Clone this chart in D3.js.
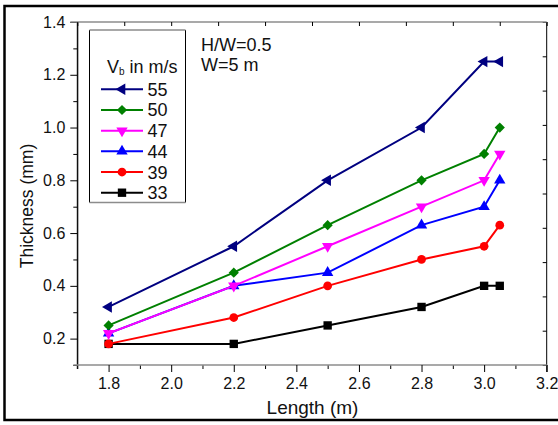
<!DOCTYPE html>
<html>
<head>
<meta charset="utf-8">
<script src="https://cdn.jsdelivr.net/npm/d3@7"></script>
<style>
  html, body { margin: 0; padding: 0; background: #fff; overflow: hidden; }
  svg { display: block; }
  svg text { font-family: Arial, "Liberation Sans", sans-serif; fill: #111; }
</style>
</head>
<body>
<svg id="chart" width="558" height="425"></svg>
<script>
// chart values
const lengths = [1.8, 2.2, 2.5, 2.8, 3.0, 3.05];
const speeds = ['55', '50', '47', '44', '39', '33'];
const v55 = [0.32, 0.55, 0.80, 1.00, 1.25, 1.25];
const v50 = [0.25, 0.45, 0.63, 0.80, 0.90, 1.00];
const v47 = [0.22, 0.40, 0.55, 0.70, 0.80, 0.90];
const v44 = [0.22, 0.40, 0.45, 0.63, 0.70, 0.80];
const v39 = [0.18, 0.28, 0.40, 0.50, 0.55, 0.63];
const v33 = [0.18, 0.18, 0.25, 0.32, 0.40, 0.40];
const xMajor = [1.8, 2.0, 2.2, 2.4, 2.6, 2.8, 3.0, 3.2];
const xMinor = [1.7, 1.9, 2.1, 2.3, 2.5, 2.7, 2.9, 3.1];
const yMajor = [0.2, 0.4, 0.6, 0.8, 1.0, 1.2, 1.4];
const yMinor = [0.1, 0.3, 0.5, 0.7, 0.9, 1.1, 1.3];
const notes = ['H/W=0.5', 'W=5 m'];

const series = [
  { name: '33', values: v33, color: '#000000', marker: 'square' },
  { name: '39', values: v39, color: '#ff0000', marker: 'circle' },
  { name: '44', values: v44, color: '#0000ff', marker: 'up' },
  { name: '47', values: v47, color: '#ff00ff', marker: 'down' },
  { name: '50', values: v50, color: '#008000', marker: 'diamond' },
  { name: '55', values: v55, color: '#000080', marker: 'left' }
];

const svg = d3.select('#chart');
const pLeft = 77.3, pRight = 546.7, pTop = 22, pBottom = 365;

const x = d3.scaleLinear().domain([1.7, 3.2]).range([pLeft, pRight]);
const y = d3.scaleLinear().domain([0.1, 1.4]).range([pBottom, pTop]);
// the top and right frame ticks just split the sides into ten
const xTop = d3.scaleLinear().domain([0, 10]).range([pLeft, pRight]);
const yRight = d3.scaleLinear().domain([0, 10]).range([pBottom, pTop]);

// outer frame of the figure, open on the right (cropped off there)
svg.append('path')
  .attr('d', 'M560,6H4.5V420H560')
  .attr('fill', 'none').attr('stroke', '#000').attr('stroke-width', 2.5);

function styleAxis (g, domainColor, domainWidth) {
  g.select('.domain').attr('stroke', domainColor).attr('stroke-width', domainWidth);
  g.selectAll('.tick line').attr('stroke', '#000').attr('stroke-width', 1);
  g.selectAll('.tick text').attr('fill', '#111')
    .style('font-size', '16px').style('font-family', 'Arial, "Liberation Sans", sans-serif');
}

// vertical axes first, the grey horizontal lines go on top of them
svg.append('g').attr('transform', `translate(${pLeft},0)`)
  .call(d3.axisLeft(y).tickValues(yMinor).tickSize(4).tickSizeOuter(0).tickFormat(''))
  .call(g => styleAxis(g, '#000', 1));
svg.append('g').attr('transform', `translate(${pLeft},0)`)
  .call(d3.axisLeft(y).tickValues(yMajor).tickSize(7).tickSizeOuter(0).tickPadding(5).tickFormat(d3.format('.1f')))
  .call(g => styleAxis(g, '#000', 1))
  .call(g => g.select('.domain').attr('d', `M0,${pTop}V${pBottom + 4}`));
svg.append('g').attr('transform', `translate(${pRight},0)`)
  .call(d3.axisLeft(yRight).ticks(10).tickSize(4).tickSizeOuter(0).tickFormat(''))
  .call(g => styleAxis(g, '#000', 1))
  .call(g => g.select('.domain').attr('d', `M0,${pTop}V${pBottom + 7}`));

svg.append('g').attr('transform', `translate(0,${pBottom})`)
  .call(d3.axisBottom(x).tickValues(xMinor).tickSize(4).tickSizeOuter(0).tickFormat(''))
  .call(g => g.select('.domain').remove())
  .call(g => styleAxis(g, '#000', 1));
svg.append('g').attr('transform', `translate(0,${pBottom})`)
  .call(d3.axisBottom(x).tickValues(xMajor).tickSize(7).tickSizeOuter(0).tickPadding(6).tickFormat(d3.format('.1f')))
  .call(g => styleAxis(g, '#8c8c8c', 1.5))
  .call(g => g.select('.domain').attr('d', `M${pLeft - 4},0H${pRight}`));
svg.append('g').attr('transform', `translate(0,${pTop})`)
  .call(d3.axisBottom(xTop).ticks(10).tickSize(4).tickSizeOuter(0).tickFormat(''))
  .call(g => styleAxis(g, '#8c8c8c', 1.5))
  .call(g => g.select('.domain').attr('d', `M${pLeft - 7},0H${pRight}`));

// axis titles
svg.append('text')
  .attr('x', (pLeft + pRight) / 2 + 0.5).attr('y', 414)
  .attr('text-anchor', 'middle').style('font-size', '19px')
  .text('Length (m)');
svg.append('text')
  .attr('transform', 'translate(33,206) rotate(-90)')
  .attr('text-anchor', 'middle').style('font-size', '17.5px')
  .text('Thickness (mm)');

const symbolFor = {
  square: { type: d3.symbolSquare, size: 70, rot: 0 },
  circle: { type: d3.symbolCircle, size: 60, rot: 0 },
  up: { type: d3.symbolTriangle, size: 56, rot: 0 },
  down: { type: d3.symbolTriangle, size: 56, rot: 180 },
  left: { type: d3.symbolTriangle, size: 56, rot: -90 },
  diamond: { type: d3.symbolSquare, size: 52, rot: 45 }
};

const line = d3.line().x(d => x(d[0])).y(d => y(d[1]));

const plot = svg.append('g');
for (const s of series) {
  const pts = lengths.map((l, i) => [l, s.values[i]]);
  const m = symbolFor[s.marker];
  plot.append('path')
    .attr('d', line(pts))
    .attr('fill', 'none').attr('stroke', s.color).attr('stroke-width', 2);
  plot.selectAll(null).data(pts).enter().append('path')
    .attr('transform', d => `translate(${x(d[0])},${y(d[1])}) rotate(${m.rot})`)
    .attr('d', d3.symbol().type(m.type).size(m.size))
    .attr('fill', s.color);
}

// legend box: grey horizontal edges, black vertical edges like the axes
const lg = { x0: 89.5, x1: 185.5, y0: 30, y1: 202.5 };
svg.append('path')
  .attr('d', `M${lg.x0},${lg.y0}V${lg.y1}M${lg.x1},${lg.y0}V${lg.y1}`)
  .attr('stroke', '#000').attr('stroke-width', 1).attr('fill', 'none');
svg.append('path')
  .attr('d', `M${lg.x0},${lg.y0}H${lg.x1}M${lg.x0},${lg.y1}H${lg.x1}`)
  .attr('stroke', '#8c8c8c').attr('stroke-width', 1.5).attr('fill', 'none');

const title = svg.append('text').attr('x', 107).attr('y', 72.5).style('font-size', '18px');
title.append('tspan').text('V');
title.append('tspan').attr('dy', 2).style('font-size', '10px').text('b');
title.append('tspan').attr('dy', -2).text(' in m/s');

const rowY = d3.scaleLinear().domain([0, 5]).range([89.3, 192.7]);
speeds.forEach((name, i) => {
  const s = series.find(d => d.name === name);
  const m = symbolFor[s.marker];
  const cy = rowY(i);
  svg.append('line')
    .attr('x1', 101).attr('x2', 143).attr('y1', cy).attr('y2', cy)
    .attr('stroke', s.color).attr('stroke-width', 2);
  svg.append('path')
    .attr('transform', `translate(122,${cy}) rotate(${m.rot})`)
    .attr('d', d3.symbol().type(m.type).size(m.size))
    .attr('fill', s.color);
  svg.append('text')
    .attr('x', 147.5).attr('y', cy + 6.5).style('font-size', '18px')
    .text(name);
});

svg.selectAll('.note').data(notes).enter().append('text')
  .attr('class', 'note')
  .attr('x', 201).attr('y', (d, i) => 51 + i * 20)
  .style('font-size', '18px')
  .text(d => d);
</script>
</body>
</html>
